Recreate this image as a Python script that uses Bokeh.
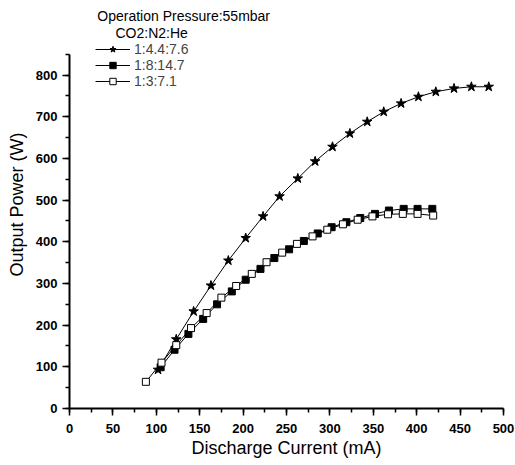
from bokeh.plotting import figure
from bokeh.models import Legend, LegendItem, Label, Range1d, SingleIntervalTicker
from bokeh.embed import file_html
from bokeh.resources import INLINE

# Discharge current (mA) and output power (W)
star_current = [102, 123, 143, 163, 183, 203, 223, 242, 263, 283, 303, 323, 343, 362, 382, 402, 422, 443, 463, 483]
star_power = [93, 166, 233, 295, 355, 409, 461, 509, 552, 593, 628, 660, 688, 712, 732, 748, 760, 768, 772, 772]

filled_current = [105, 121, 137, 154, 170, 187, 203, 220, 236, 253, 270, 286, 302, 319, 335, 352, 368, 385, 401, 418]
filled_power = [99, 141, 179, 215, 250, 281, 309, 335, 361, 382, 402, 420, 435, 447, 457, 467, 475, 479, 479, 479]

open_current = [88, 106, 123, 140, 158, 175, 192, 210, 227, 245, 262, 280, 297, 315, 332, 349, 367, 384, 401, 419]
open_power = [64, 110, 152, 193, 229, 266, 294, 323, 351, 374, 395, 413, 429, 442, 453, 461, 466, 467, 467, 463]

series_labels = ["1:4.4:7.6", "1:8:14.7", "1:3:7.1"]
header_text = "Operation Pressure:55mbar"
legend_title = "CO2:N2:He"

FONT = "Liberation Sans"

p = figure(width=515, height=465, output_backend="svg", toolbar_location=None,
           x_range=Range1d(0, 500), y_range=Range1d(0, 979),
           min_border_left=69, min_border_right=12, min_border_top=0, min_border_bottom=57)
p.xgrid.visible = False
p.ygrid.visible = False
p.outline_line_color = None
p.background_fill_color = "white"
p.border_fill_color = "white"

for ax in (p.xaxis[0], p.yaxis[0]):
    ax.axis_line_width = 2
    ax.axis_line_color = "black"
    ax.major_tick_line_width = 1.5
    ax.minor_tick_line_width = 1.5
    ax.major_tick_out = 7
    ax.major_tick_in = 0
    ax.minor_tick_out = 4
    ax.minor_tick_in = 0
    ax.major_label_text_font = FONT
    ax.major_label_text_font_style = "bold"
    ax.major_label_text_font_size = "13px"
    ax.major_label_text_color = "black"
    ax.axis_label_text_font = FONT
    ax.axis_label_text_font_style = "normal"
    ax.axis_label_text_font_size = "18px"
    ax.axis_label_text_color = "black"

p.xaxis.ticker = SingleIntervalTicker(interval=50, num_minor_ticks=2)
p.yaxis.ticker = SingleIntervalTicker(interval=100, num_minor_ticks=2)
p.yaxis.bounds = (0, 850)
p.xaxis.axis_label = "Discharge Current (mA)"
p.yaxis.axis_label = "Output Power (W)"
p.xaxis.major_label_standoff = 8
p.yaxis.major_label_standoff = 5
p.xaxis.axis_label_standoff = 2
p.yaxis.axis_label_standoff = 6

l1 = p.line(star_current, star_power, line_color="black", line_width=1)
s1 = p.scatter(star_current, star_power, marker="star", size=10,
               fill_color="black", line_color="black")
l2 = p.line(filled_current, filled_power, line_color="black", line_width=1)
s2 = p.scatter(filled_current, filled_power, marker="square", size=7,
               fill_color="black", line_color="black")
l3 = p.line(open_current, open_power, line_color="black", line_width=1)
s3 = p.scatter(open_current, open_power, marker="square", size=7,
               fill_color="white", line_color="black")

legend = Legend(items=[LegendItem(label=series_labels[0], renderers=[l1, s1]),
                       LegendItem(label=series_labels[1], renderers=[l2, s2]),
                       LegendItem(label=series_labels[2], renderers=[l3, s3])],
                location=(26, 319), padding=0, margin=0, spacing=0,
                glyph_width=35, glyph_height=16, label_height=16, label_standoff=4,
                label_text_font=FONT, label_text_font_size="14px",
                border_line_color=None, background_fill_alpha=0)
p.add_layout(legend, "center")

p.add_layout(Label(x=32, y=943, text=header_text, text_font=FONT, text_font_size="14px",
                   text_baseline="middle", text_color="black"))
p.add_layout(Label(x=53, y=902, text=legend_title, text_font=FONT, text_font_size="14px",
                   text_baseline="middle", text_color="black"))

open("out.html", "w").write(file_html(p, INLINE))
